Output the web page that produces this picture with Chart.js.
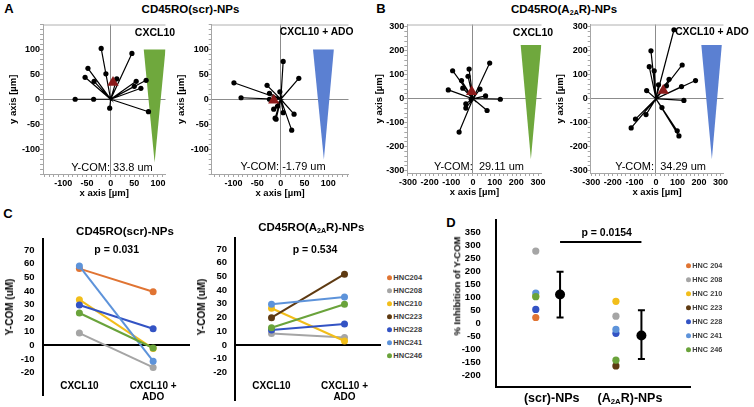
<!DOCTYPE html>
<html>
<head>
<meta charset="utf-8">
<script src="https://cdn.jsdelivr.net/npm/chart.js@4.4.1/dist/chart.umd.min.js"></script>
<style>
body { margin: 0; background: #fff; }
#fig { position: relative; width: 754px; height: 407px; overflow: hidden; font-family: "Liberation Sans", Arial, sans-serif; background: #fff; }
#fig canvas { position: absolute; }
.t { position: absolute; white-space: nowrap; transform: translate(-50%, -50%); font-weight: bold; color: #000; line-height: 1; }
.t sub { font-size: 0.62em; vertical-align: -0.25em; line-height: 0; }
.rot { transform: translate(-50%, -50%) rotate(-90deg); }
.leg { position: absolute; white-space: nowrap; transform: translateY(-50%); font-weight: bold; color: #404040; line-height: 1; }
.leg i { position: absolute; left: -6px; top: 50%; width: 5px; height: 5px; margin-top: -2.5px; border-radius: 50%; }
</style>
</head>
<body>
<div id="fig"></div>
<script>
// samples (legend of C and D)
const samples = ['HNC204', 'HNC208', 'HNC210', 'HNC223', 'HNC228', 'HNC241', 'HNC246'];
const sampleColors = ['#E07433', '#A5A5A5', '#F2BE1A', '#5E3A12', '#3353C4', '#5D93DA', '#6AA33B'];

// A: CD45RO(scr)-NPs, cell end points [µm]
const aCxclX = [-20, 45, -48, -54, -35, -10, 13, 54, 50, 64, 75, -75, -36, -2, 80];
const aCxclY = [102, 92, 62, 44, 36, 51, 41, 36, 26, 22, 38, 0, 0, -18, -25];
const aCxclCom = [5, 33.8];
const aAdoX = [-99, -84, -29, -24, -24, -2, 5, 38, -15, -12, -10, -7, 5, 28, 23];
const aAdoY = [33, 3, 28, 12, 0, 15, 76, 42, -20, -38, -40, -14, -27, -30, -62];
const aAdoCom = [-15, -1.79];

// B: CD45RO(A2AR)-NPs
const bCxclX = [-94, -114, -53, -47, -18, -23, 77, 32, 58, 126, 65, -33, -33, -64, -8];
const bCxclY = [117, 37, 76, 44, 124, 94, 149, 40, 12, -2, -49, -21, -39, -139, -2];
const bCxclCom = [-6, 29.11];
const bAdoX = [84, -23, -31, -8, 12, -43, 122, 61, 184, 119, 49, 130, 28, -46, -95, -115, 99, 107];
const bAdoY = [288, 200, 134, 117, 58, 34, 141, 81, 76, 51, 54, -7, -37, -66, -85, -122, -134, -155];
const bAdoCom = [34, 34.29];

// gradient wedges (CXCL10 source)
const aCxclWedgeX = [70, 116, 93];
const aCxclWedgeY = [100, 100, -127];
const aAdoWedgeX = [68, 112, 91];
const aAdoWedgeY = [100, 100, -121];
const bCxclWedgeX = [220, 315, 267];
const bCxclWedgeY = [224, 224, -253];
const bAdoWedgeX = [211, 306, 260];
const bAdoWedgeY = [224, 224, -253];

const aTicks = [-100, -50, 0, 50, 100];
const bTicks = [-300, -200, -100, 0, 100, 200, 300];

// C: Y-COM per donor (null = not measured)
const cCategories = ['CXCL10', ['CXCL10 +', 'ADO']];
const cScrCxcl = [56.5, 9, 33.6, null, 29.7, 58.4, 23.8];
const cScrAdo = [39.5, -16.3, -2.4, null, 12.2, -11.7, -2];
const cA2arCxcl = [null, 8.3, 26.8, 19.9, 11, 29.7, 12.6];
const cA2arAdo = [null, 5.4, 2.9, 51.6, 15.3, 35, 29.7];
const cTicks = [-20, -10, 0, 10, 20, 30, 40, 50, 60, 70];

// D: % inhibition of Y-COM
const dGroups = ['(scr)-NPs', '(A<sub>2A</sub>R)-NPs'];
const dScr = [24, 279, 106, null, 55, 118, 104];
const dA2ar = [null, 29, 86, -162, -37, -22, -140];
const dMean = [112, -45];
const dErrHi = [200, 52];
const dErrLo = [24, -136];
const dPValueY = 314;
const dTicks = [-200, -150, -100, -50, 0, 50, 100, 150, 200, 250, 300, 350];

const fig = document.getElementById('fig');
const FONT = '"Liberation Sans", Arial, sans-serif';
Chart.defaults.font.family = FONT;

function placeCanvas(box) {
    const c = document.createElement('canvas');
    c.width = box.w;
    c.height = box.h;
    c.style.left = box.l + 'px';
    c.style.top = box.t + 'px';
    c.style.width = box.w + 'px';
    c.style.height = box.h + 'px';
    fig.appendChild(c);
    return c;
}

function addText(html, x, y, size, cls, weight) {
    const d = document.createElement('div');
    d.className = 't' + (cls ? ' ' + cls : '');
    d.innerHTML = html;
    d.style.left = x + 'px';
    d.style.top = y + 'px';
    d.style.fontSize = size + 'px';
    if (weight) d.style.fontWeight = weight;
    fig.appendChild(d);
}

function addLegend(x, y0, step, size, withSpace) {
    samples.forEach((s, i) => {
        const d = document.createElement('div');
        d.className = 'leg';
        d.style.left = x + 'px';
        d.style.top = (y0 + i * step) + 'px';
        d.style.fontSize = size + 'px';
        d.innerHTML = '<i style="background:' + sampleColors[i] + '"></i>' + (withSpace ? s.replace('HNC', 'HNC ') : s);
        fig.appendChild(d);
    });
}

function stepTicks(min, max, step) {
    const out = [];
    for (let v = Math.ceil(min / step) * step; v <= max; v += step) out.push(v);
    return out;
}

// fix the plot area inside the canvas
function fitLayout(box, area) {
    return {
        padding: { top: area.t - box.t, right: box.l + box.w - area.r, left: 0, bottom: 0 }
    };
}
function fitX(box, area) {
    return s => { s.height = box.t + box.h - area.b; s.paddingLeft = 0; s.paddingRight = 0; };
}
function fitY(box, area) {
    return s => { s.width = area.l - box.l; s.paddingTop = 0; s.paddingBottom = 0; };
}

const topFrame = {
    id: 'topFrame',
    afterDraw(chart) {
        const a = chart.chartArea, ctx = chart.ctx;
        ctx.save();
        ctx.strokeStyle = '#b0b0b0';
        ctx.lineWidth = 1;
        ctx.beginPath();
        ctx.moveTo(a.left, a.top + 0.5);
        ctx.lineTo(a.right, a.top + 0.5);
        ctx.stroke();
        ctx.restore();
    }
};

function migrationChart(box, area, o) {
    const c = placeCanvas(box);
    const dots = o.xs.map((x, i) => ({ x: x, y: o.ys[i] }));
    const rays = dots.flatMap(p => [{ x: 0, y: 0 }, p]);
    const wedge = o.wedgeX.map((x, i) => ({ x: x, y: o.wedgeY[i] }));
    wedge.push(wedge[0]);
    const minorX = stepTicks(o.xMin, o.xMax, o.minor);
    const minorY = stepTicks(o.yMin, o.yMax, o.minor);
    const zeroGrid = ctx => (ctx.tick && ctx.tick.value === 0) ? '#8c8c8c' : 'rgba(0,0,0,0)';
    const tickFont = { size: 9, weight: 'bold' };
    const titleFont = { size: 9.5, weight: 'bold' };
    new Chart(c, {
        type: 'scatter',
        data: {
            datasets: [
                { type: 'line', order: 3, data: wedge, fill: 'shape', backgroundColor: o.wedgeColor, borderWidth: 0, pointRadius: 0, tension: 0 },
                { type: 'line', order: 2, data: rays, borderColor: '#000', borderWidth: 1.2, pointRadius: 0, fill: false, tension: 0 },
                { order: 1, data: dots, backgroundColor: '#000', borderWidth: 0, pointRadius: 2.6 },
                { order: 0, data: [{ x: o.com[0], y: o.com[1] }], pointStyle: 'triangle', pointRadius: 6.5, backgroundColor: '#8B1A1A', borderWidth: 0 }
            ]
        },
        options: {
            responsive: false,
            animation: false,
            layout: fitLayout(box, area),
            plugins: { legend: { display: false }, tooltip: { enabled: false } },
            scales: {
                x: {
                    type: 'linear', min: o.xMin, max: o.xMax,
                    afterBuildTicks: s => { s.ticks = minorX.map(v => ({ value: v })); },
                    afterFit: fitX(box, area),
                    ticks: {
                        autoSkip: false, maxRotation: 0, padding: 1, color: '#000', font: tickFont,
                        callback: v => o.labels.includes(v) ? String(v) : ''
                    },
                    grid: { color: zeroGrid, tickColor: '#a6a6a6', tickLength: 3, lineWidth: 1 },
                    border: { color: '#a6a6a6' },
                    title: { display: true, text: 'x axis [µm]', color: '#000', font: titleFont, padding: { top: 0, bottom: o.xTitlePad } }
                },
                y: {
                    type: 'linear', min: o.yMin, max: o.yMax,
                    afterBuildTicks: s => { s.ticks = minorY.map(v => ({ value: v })); },
                    afterFit: fitY(box, area),
                    ticks: {
                        autoSkip: false, padding: 0, color: '#000', font: tickFont,
                        callback: v => o.labels.includes(v) ? String(v) : ''
                    },
                    grid: { color: zeroGrid, tickColor: '#a6a6a6', tickLength: 3, lineWidth: 1 },
                    border: { color: '#a6a6a6' },
                    title: { display: true, text: 'y axis [µm]', color: '#000', font: titleFont, padding: { top: o.yTitlePad, bottom: 0 } }
                }
            }
        },
        plugins: [topFrame]
    });
}

migrationChart({ l: 0, t: 18, w: 172, h: 186 }, { l: 43, t: 23, r: 170, b: 174 }, {
    xs: aCxclX, ys: aCxclY, com: aCxclCom, wedgeX: aCxclWedgeX, wedgeY: aCxclWedgeY, wedgeColor: '#6FA83D',
    xMin: -143, xMax: 116, yMin: -150, yMax: 150, minor: 10, labels: aTicks, yTitlePad: 7.3, xTitlePad: 5
});
migrationChart({ l: 172, t: 18, w: 183, h: 186 }, { l: 211.7, t: 23, r: 350, b: 174 }, {
    xs: aAdoX, ys: aAdoY, com: aAdoCom, wedgeX: aAdoWedgeX, wedgeY: aAdoWedgeY, wedgeColor: '#5B80D2',
    xMin: -146, xMax: 143, yMin: -150, yMax: 150, minor: 10, labels: aTicks, yTitlePad: 3.3, xTitlePad: 5
});
migrationChart({ l: 370, t: 18, w: 178, h: 186 }, { l: 407.3, t: 23.6, r: 543.3, b: 173 }, {
    xs: bCxclX, ys: bCxclY, com: bCxclCom, wedgeX: bCxclWedgeX, wedgeY: bCxclWedgeY, wedgeColor: '#6FA83D',
    xMin: -303, xMax: 316, yMin: -310, yMax: 310, minor: 20, labels: bTicks, yTitlePad: 3.3, xTitlePad: 5.6
});
migrationChart({ l: 552, t: 18, w: 178, h: 186 }, { l: 590.7, t: 23.6, r: 725, b: 173 }, {
    xs: bAdoX, ys: bAdoY, com: bAdoCom, wedgeX: bAdoWedgeX, wedgeY: bAdoWedgeY, wedgeColor: '#5B80D2',
    xMin: -303, xMax: 314, yMin: -310, yMax: 310, minor: 20, labels: bTicks, yTitlePad: 2.3, xTitlePad: 5.6
});

// category labels drawn inside the plot, below the zero line
const catLabels = {
    id: 'catLabels',
    afterDraw(chart, args, o) {
        const ctx = chart.ctx, x = chart.scales.x;
        ctx.save();
        ctx.font = 'bold 10px ' + FONT;
        ctx.fillStyle = '#000';
        ctx.textAlign = 'center';
        ctx.textBaseline = 'middle';
        chart.data.labels.forEach((lab, i) => {
            [].concat(lab).forEach((line, j) => ctx.fillText(line, x.getPixelForValue(i), o.y + j * 11.7));
        });
        ctx.restore();
    }
};

function pairedChart(box, area, first, second, yMin, yMax) {
    const c = placeCanvas(box);
    const datasets = [];
    samples.forEach((s, i) => {
        if (first[i] === null || second[i] === null) return;
        datasets.push({
            label: s,
            order: -i,
            data: [first[i], second[i]],
            borderColor: sampleColors[i],
            backgroundColor: sampleColors[i],
            pointBackgroundColor: sampleColors[i],
            borderWidth: 2,
            pointRadius: 3.5,
            pointBorderWidth: 0,
            tension: 0
        });
    });
    new Chart(c, {
        type: 'line',
        data: { labels: cCategories, datasets: datasets },
        options: {
            responsive: false,
            animation: false,
            layout: fitLayout(box, area),
            plugins: { legend: { display: false }, tooltip: { enabled: false }, catLabels: { y: 386 - box.t } },
            scales: {
                x: {
                    type: 'category', offset: true,
                    afterFit: fitX(box, area),
                    grid: { display: false },
                    border: { display: false },
                    ticks: { display: false }
                },
                y: {
                    min: yMin, max: yMax,
                    afterBuildTicks: s => { s.ticks = cTicks.map(v => ({ value: v })); },
                    afterFit: fitY(box, area),
                    ticks: { padding: 8, color: '#000', font: { size: 9.5, weight: 'bold' } },
                    grid: {
                        drawTicks: false,
                        color: ctx => (ctx.tick && ctx.tick.value === 0) ? '#000' : 'rgba(0,0,0,0)',
                        lineWidth: 2
                    },
                    border: { color: '#000', width: 2 }
                }
            }
        },
        plugins: [catLabels]
    });
}

pairedChart({ l: 0, t: 235, w: 195, h: 170 }, { l: 42.5, t: 238, r: 190, b: 395 }, cScrCxcl, cScrAdo, -36.6, 78.3);
pairedChart({ l: 195, t: 234, w: 190, h: 172 }, { l: 235, t: 237, r: 381, b: 400 }, cA2arCxcl, cA2arAdo, -40.1, 78.0);

// D
const groupDotX = [1.65, 4.95];
const groupMeanX = [2.65, 6.0];
const errorBars = {
    id: 'errorBars',
    beforeDatasetsDraw(chart) {
        const ctx = chart.ctx, x = chart.scales.x, y = chart.scales.y;
        ctx.save();
        ctx.strokeStyle = '#000';
        ctx.lineWidth = 2;
        groupMeanX.forEach((gx, i) => {
            const px = x.getPixelForValue(gx);
            const top = y.getPixelForValue(dErrHi[i]);
            const bot = y.getPixelForValue(dErrLo[i]);
            ctx.beginPath();
            ctx.moveTo(px, top); ctx.lineTo(px, bot);
            ctx.moveTo(px - 3.5, top); ctx.lineTo(px + 3.5, top);
            ctx.moveTo(px - 3.5, bot); ctx.lineTo(px + 3.5, bot);
            ctx.stroke();
        });
        ctx.restore();
    }
};

(function () {
    const box = { l: 462, t: 215, w: 233, h: 180 };
    const area = { l: 495.7, t: 219, r: 690, b: 386.7 };
    const c = placeCanvas(box);
    const datasets = [];
    [dScr, dA2ar].forEach((vals, g) => {
        samples.forEach((s, i) => {
            if (vals[i] === null) return;
            datasets.push({ order: -i, data: [{ x: groupDotX[g], y: vals[i] }], backgroundColor: sampleColors[i], pointRadius: 3.6, borderWidth: 0 });
        });
    });
    datasets.push({ order: -20, data: dMean.map((v, i) => ({ x: groupMeanX[i], y: v })), backgroundColor: '#000', pointRadius: 5, borderWidth: 0 });
    datasets.push({
        type: 'line', order: -20, data: groupMeanX.map(gx => ({ x: gx, y: dPValueY })),
        borderColor: '#000', borderWidth: 2, pointRadius: 0, fill: false
    });
    new Chart(c, {
        type: 'scatter',
        data: { datasets: datasets },
        options: {
            responsive: false,
            animation: false,
            layout: fitLayout(box, area),
            plugins: { legend: { display: false }, tooltip: { enabled: false } },
            scales: {
                x: {
                    type: 'linear', min: 0, max: 8,
                    afterFit: fitX(box, area),
                    ticks: { display: false },
                    grid: { display: false },
                    border: { color: '#000', width: 2 }
                },
                y: {
                    min: -242, max: 398.6,
                    afterBuildTicks: s => { s.ticks = dTicks.map(v => ({ value: v })); },
                    afterFit: fitY(box, area),
                    ticks: { padding: 15, color: '#000', font: { size: 9.5, weight: 'bold' } },
                    grid: { display: false, drawTicks: false },
                    border: { color: '#000', width: 2 }
                }
            }
        },
        plugins: [errorBars]
    });
})();

// texts
addText('A', 9, 8, 13);
addText('B', 381, 8, 13);
addText('C', 8, 213, 13);
addText('D', 451, 222, 13);
addText('CD45RO(scr)-NPs', 190.5, 10, 11.5);
addText('CD45RO(A<sub>2A</sub>R)-NPs', 564, 10, 11.5);

addText('CXCL10', 155, 32, 10.5);
addText('CXCL10 + ADO', 316.7, 32, 10.3);
addText('CXCL10', 533, 32, 10.5);
addText('CXCL10 + ADO', 712, 32, 10.3);
addText('Y-COM: 33.8 um', 112, 166.5, 11, '', 'normal');
addText('Y-COM: -1.79 um', 283, 165.7, 11, '', 'normal');
addText('Y-COM:&nbsp; 29.11 um', 479, 165.7, 11, '', 'normal');
addText('Y-COM:&nbsp; 34.29 um', 660.7, 165.7, 11, '', 'normal');

addText('CD45RO(scr)-NPs', 125, 231.7, 11.5);
addText('p = 0.031', 116.7, 249.3, 10.5);
addText('CD45RO(A<sub>2A</sub>R)-NPs', 311.3, 228.3, 11.5);
addText('p = 0.534', 315, 249.3, 10.5);
addText('Y-COM (uM)', 10, 306.7, 10, 'rot');
addText('Y-COM (uM)', 201.7, 306.7, 10, 'rot');
addLegend(393.3, 277.7, 13, 7.5, false);

addText('p = 0.0154', 606.7, 231.7, 10.5);
addText('% Inhibition of Y-COM', 456.7, 286, 9.5, 'rot');
addText(dGroups[0], 551.7, 398.3, 12.5);
addText(dGroups[1], 630, 398.3, 12.5);
addLegend(692.3, 266, 14, 7.3, true);
</script>
</body>
</html>
